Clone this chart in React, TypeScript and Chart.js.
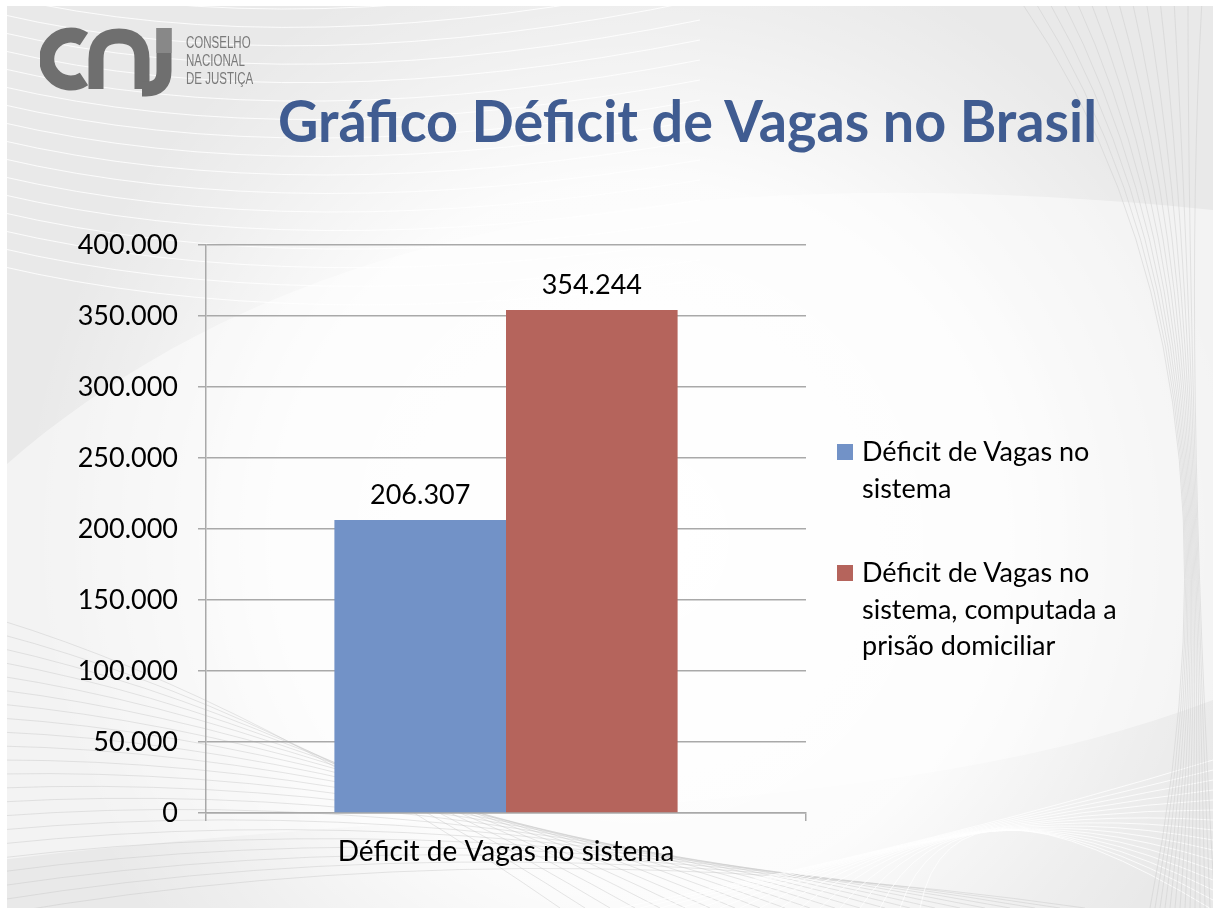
import React, { useEffect, useLayoutEffect, useRef, useState } from "react";
import { Chart, registerables } from "chart.js";

Chart.register(...registerables);

// ---------- data ----------
const categories = ["Déficit de Vagas no sistema"];
const seriesNames = [
  "Déficit de Vagas no sistema",
  "Déficit de Vagas no sistema, computada a prisão domiciliar",
];
const deficitSistema = [206307];
const deficitComDomiciliar = [354244];
const seriesColors = ["#7292C7", "#B5645C"];
const yTickValues = [0, 50000, 100000, 150000, 200000, 250000, 300000, 350000, 400000];
const titleText = "Gráfico Déficit de Vagas no Brasil";
const logoLines = ["CONSELHO", "NACIONAL", "DE JUSTIÇA"];

const FONT = "Lato, 'Open Sans', sans-serif";
const FS = 27;

function fmt(n: number): string {
  return Math.round(n)
    .toString()
    .replace(/\B(?=(\d{3})+(?!\d))/g, ".");
}

// ---------- plugins ----------
const backgroundPlugin = {
  id: "slideBackground",
  beforeDraw(chart: any) {
    const ctx = chart.ctx as CanvasRenderingContext2D;
    const W = chart.width;
    const H = chart.height;
    ctx.save();
    ctx.fillStyle = "#ffffff";
    ctx.fillRect(0, 0, W, H);
    ctx.beginPath();
    ctx.rect(7, 6, W - 7, H - 6);
    ctx.clip();
    ctx.fillStyle = "#E9E9E9";
    ctx.fillRect(0, 0, W, H);

    const g = ctx.createRadialGradient(640, 540, 40, 640, 540, 620);
    g.addColorStop(0, "rgba(255,255,255,1)");
    g.addColorStop(0.55, "rgba(255,255,255,0.85)");
    g.addColorStop(0.85, "rgba(255,255,255,0.25)");
    g.addColorStop(1, "rgba(255,255,255,0)");
    ctx.fillStyle = g;
    ctx.fillRect(0, 0, W, H);

    ctx.beginPath();
    ctx.moveTo(0, 470);
    ctx.bezierCurveTo(250, 250, 620, 150, 1213, 210);
    ctx.lineTo(1213, 700);
    ctx.bezierCurveTo(900, 820, 500, 800, 0, 860);
    ctx.closePath();
    ctx.fillStyle = "rgba(255,255,255,0.45)";
    ctx.fill();

    ctx.lineWidth = 1;
    ctx.strokeStyle = "rgba(255,255,255,0.85)";
    for (let i = 0; i < 18; i++) {
      ctx.beginPath();
      const y0 = -40 + i * 18;
      ctx.moveTo(0, y0);
      ctx.quadraticCurveTo(300, y0 + 70, 700, y0 - 20 + i * 2);
      ctx.stroke();
    }
    ctx.strokeStyle = "rgba(200,200,200,0.45)";
    for (let i = 0; i < 22; i++) {
      ctx.beginPath();
      ctx.moveTo(0, 620 + i * 14);
      ctx.quadraticCurveTo(260 + i * 12, 700 + i * 6, 560 + i * 25, 908);
      ctx.stroke();
    }
    ctx.strokeStyle = "rgba(255,255,255,0.8)";
    for (let i = 0; i < 16; i++) {
      ctx.beginPath();
      ctx.moveTo(620 + i * 20, 908);
      ctx.quadraticCurveTo(950, 840 - i * 6, 1213, 760 + i * 10);
      ctx.stroke();
    }
    ctx.strokeStyle = "rgba(205,205,205,0.5)";
    for (let i = 0; i < 14; i++) {
      ctx.beginPath();
      ctx.moveTo(1020 + i * 14, 0);
      ctx.quadraticCurveTo(1260 - i * 6, 350, 1150 + i * 5, 908);
      ctx.stroke();
    }
    ctx.restore();
  },
};

const valueLabelPlugin = {
  id: "valueLabels",
  afterDatasetsDraw(chart: any) {
    const ctx = chart.ctx as CanvasRenderingContext2D;
    ctx.save();
    ctx.font = `${FS}px ${FONT}`;
    ctx.fillStyle = "#000000";
    ctx.textAlign = "center";
    ctx.textBaseline = "alphabetic";
    chart.data.datasets.forEach((ds: any, i: number) => {
      const meta = chart.getDatasetMeta(i);
      meta.data.forEach((el: any, j: number) => {
        ctx.fillText(fmt(ds.data[j]), el.x, el.y - 16);
      });
    });
    ctx.restore();
  },
};

// ---------- component ----------
export default function App() {
  const canvasRef = useRef<HTMLCanvasElement | null>(null);
  const titleRef = useRef<HTMLDivElement | null>(null);
  const [titleScale, setTitleScale] = useState(1);

  useLayoutEffect(() => {
    document.body.style.margin = "0";
    document.body.style.overflow = "hidden";
    if (titleRef.current) {
      const w = titleRef.current.getBoundingClientRect().width;
      if (w > 0) setTitleScale(819 / w);
    }
  }, []);

  useEffect(() => {
    if (!canvasRef.current) return;
    const gridColor = "#A9A9A9";
    const chart = new Chart(canvasRef.current, {
      type: "bar",
      data: {
        labels: categories,
        datasets: [
          {
            label: seriesNames[0],
            data: deficitSistema,
            backgroundColor: seriesColors[0],
            categoryPercentage: 0.572,
            barPercentage: 1,
          },
          {
            label: seriesNames[1],
            data: deficitComDomiciliar,
            backgroundColor: seriesColors[1],
            categoryPercentage: 0.572,
            barPercentage: 1,
          },
        ],
      },
      options: {
        animation: false,
        responsive: true,
        maintainAspectRatio: false,
        layout: { padding: { left: 0, right: 407, top: 245, bottom: 0 } },
        plugins: {
          legend: { display: false },
          tooltip: { enabled: false },
          title: { display: false },
        },
        scales: {
          x: {
            grid: {
              display: true,
              drawOnChartArea: false,
              drawTicks: true,
              tickLength: 8,
              color: gridColor,
              lineWidth: 1.5,
              offset: true,
            },
            border: { color: gridColor, width: 1.5 },
            ticks: {
              font: { family: FONT, size: 28 },
              color: "#000000",
              padding: 14,
            },
            afterFit: (s: any) => {
              s.height = 95;
            },
          },
          y: {
            min: 0,
            max: 400000,
            afterBuildTicks: (s: any) => {
              s.ticks = yTickValues.map((v) => ({ value: v }));
            },
            ticks: {
              font: { family: FONT, size: FS },
              color: "#000000",
              padding: 20,
              callback: (v: any) => fmt(Number(v)),
            },
            grid: {
              color: gridColor,
              lineWidth: 1.5,
              tickLength: 8,
              drawTicks: true,
            },
            border: { color: gridColor, width: 1.5 },
            afterFit: (s: any) => {
              s.width = 206;
            },
          },
        },
      },
      plugins: [backgroundPlugin, valueLabelPlugin],
    });
    return () => chart.destroy();
  }, []);

  const datasetsForLegend = [
    { name: seriesNames[0], color: seriesColors[0] },
    { name: seriesNames[1], color: seriesColors[1] },
  ];

  return (
    <div
      style={{
        position: "fixed",
        left: 0,
        top: 0,
        width: 1213,
        height: 908,
        overflow: "hidden",
      }}
    >
      <canvas ref={canvasRef} style={{ position: "absolute", left: 0, top: 0 }} />

      {/* Logo */}
      <svg
        width={140}
        height={75}
        style={{ position: "absolute", left: 40, top: 23 }}
        viewBox="0 0 140 75"
      >
        <g fill="none" stroke="#6F6F6F" strokeWidth={15} strokeLinecap="butt">
          <path d="M 44 16 A 24 24 0 1 0 44 56" />
          <path d="M 56 66 L 56 36 Q 56 13 79 13 Q 102 13 102 36 L 102 66" />
          <path d="M 124 5 L 124 48 Q 124 66 106 66 L 102 66" />
        </g>
        <path d="M 116.5 5 L 131.5 5 L 131.5 30 L 116.5 30 Z" fill="#888888" />
      </svg>
      <div
        style={{
          position: "absolute",
          left: 186,
          top: 34,
          fontFamily: "'Liberation Sans Narrow', 'Liberation Sans', sans-serif",
          fontSize: 16,
          lineHeight: "18px",
          color: "#7A7A7A",
          transformOrigin: "0 0",
          transform: "scaleX(0.72)",
          whiteSpace: "nowrap",
        }}
      >
        {logoLines.map((l) => (
          <div key={l}>{l}</div>
        ))}
      </div>

      {/* Title */}
      <div
        style={{
          position: "absolute",
          left: 278,
          top: 92,
          transformOrigin: "0 0",
          transform: `scaleX(${titleScale})`,
        }}
      >
        <div
          ref={titleRef}
          style={{
            display: "inline-block",
            whiteSpace: "nowrap",
            fontFamily: FONT,
            fontWeight: 700,
            fontSize: 57,
            lineHeight: "57px",
            color: "#405C91",
          }}
        >
          {titleText}
        </div>
      </div>

      {/* Legend */}
      <div style={{ position: "absolute", left: 837, top: 433, width: 310 }}>
        {datasetsForLegend.map((d, i) => (
          <div
            key={i}
            style={{ display: "flex", alignItems: "flex-start", marginBottom: 48 }}
          >
            <div
              style={{
                width: 16,
                height: 16,
                marginTop: 11,
                marginRight: 9,
                background: d.color,
                flex: "0 0 auto",
              }}
            />
            <div
              style={{
                width: 285,
                fontFamily: FONT,
                fontSize: FS,
                lineHeight: "36.5px",
                color: "#000",
              }}
            >
              {d.name}
            </div>
          </div>
        ))}
      </div>
    </div>
  );
}
